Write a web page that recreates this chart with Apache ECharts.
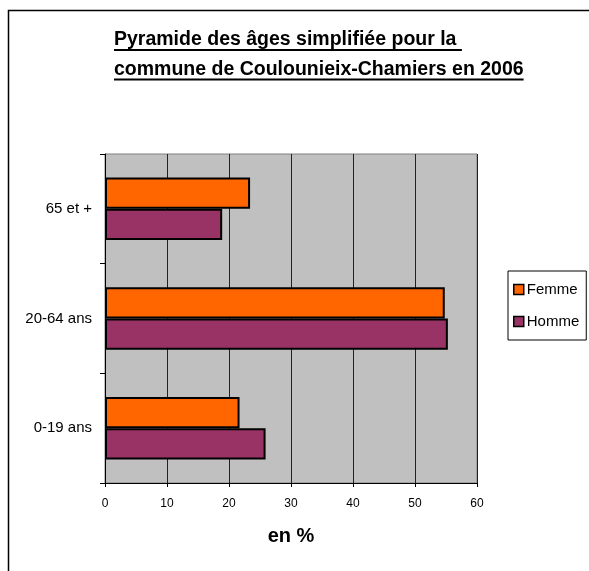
<!DOCTYPE html>
<html>
<head>
<meta charset="utf-8">
<script src="https://cdn.jsdelivr.net/npm/echarts@6/dist/echarts.min.js"></script>
<style>
html,body{margin:0;padding:0;background:#fff;}
#chart{width:589px;height:571px;}
</style>
</head>
<body>
<div id="chart"></div>
<script>
const categories = ['0-19 ans', '20-64 ans', '65 et +'];
const femme = [21.7, 54.8, 23.4];
const homme = [25.9, 55.3, 18.9];
const xTicks = [0, 10, 20, 30, 40, 50, 60];
const titleLines = ['Pyramide des âges simplifiée pour la ', 'commune de Coulounieix-Chamiers en 2006'];

const FONT = '"Liberation Sans", Arial, sans-serif';
const chart = echarts.init(document.getElementById('chart'), null, {renderer: 'canvas'});

// measure title text for underlines
const TITLE_SIZE = 19.5;
const cv = document.createElement('canvas').getContext('2d');
cv.font = 'bold ' + TITLE_SIZE + 'px "Liberation Sans"';
const titleLeft = 114, titleTop = 31, lineH = 29.5;
const underlines = titleLines.map((t, i) => ({
  type: 'line',
  shape: {x1: titleLeft, y1: titleTop + 19 + i * lineH, x2: titleLeft + cv.measureText(t).width, y2: titleTop + 19 + i * lineH},
  style: {stroke: '#000', lineWidth: 2}
}));

chart.setOption({
  animation: false,
  backgroundColor: '#fff',
  textStyle: {fontFamily: FONT},
  title: {
    text: titleLines.join('\n'),
    left: titleLeft, top: titleTop - 6, padding: 0,
    textStyle: {fontFamily: FONT, fontWeight: 'bold', fontSize: TITLE_SIZE, color: '#000', lineHeight: lineH}
  },
  graphic: [
    {type: 'rect', shape: {x: 8.5, y: 10.5, width: 700, height: 700}, style: {fill: 'none', stroke: '#000', lineWidth: 1.5}, z: 100}
  ].concat(underlines),
  legend: {
    data: ['Femme', 'Homme'],
    orient: 'vertical',
    left: 508, top: 271,
    padding: [11, 7, 11, 5],
    itemGap: 17,
    itemWidth: 10, itemHeight: 10,
    borderColor: '#000', borderWidth: 1,
    backgroundColor: '#fff',
    icon: 'rect',
    itemStyle: {borderColor: '#000', borderWidth: 1.5},
    textStyle: {fontFamily: FONT, fontSize: 15, color: '#000', padding: [0, 0, 0, -2]}
  },
  grid: {
    left: 105, top: 154, right: 112, bottom: 88,
    show: true, backgroundColor: '#C0C0C0', borderColor: '#808080', borderWidth: 1
  },
  xAxis: {
    type: 'value', min: 0, max: 60, interval: 10,
    axisLine: {show: true, lineStyle: {color: '#000', width: 1}},
    axisTick: {show: true, length: 4, lineStyle: {color: '#000'}},
    splitLine: {show: true, lineStyle: {color: '#222', width: 1}},
    axisLabel: {fontFamily: FONT, fontSize: 12, color: '#000', margin: 15,
      formatter: v => xTicks.includes(v) ? String(v) : ''},
    name: 'en %', nameLocation: 'middle', nameGap: 43,
    nameTextStyle: {fontFamily: FONT, fontWeight: 'bold', fontSize: 20, color: '#000'}
  },
  yAxis: {
    type: 'category', data: categories,
    axisLine: {show: true, lineStyle: {color: '#000', width: 1}},
    axisTick: {show: true, length: 5, lineStyle: {color: '#000'}},
    splitLine: {show: false},
    axisLabel: {fontFamily: FONT, fontSize: 15, color: '#000', margin: 13}
  },
  series: [
    {name: 'Femme', type: 'bar', data: femme, barGap: '0%', barCategoryGap: '43%',
      itemStyle: {color: '#FF6600', borderColor: '#000', borderWidth: 2}},
    {name: 'Homme', type: 'bar', data: homme, barGap: '0%', barCategoryGap: '43%',
      itemStyle: {color: '#993366', borderColor: '#000', borderWidth: 2}}
  ]
});
</script>
</body>
</html>
